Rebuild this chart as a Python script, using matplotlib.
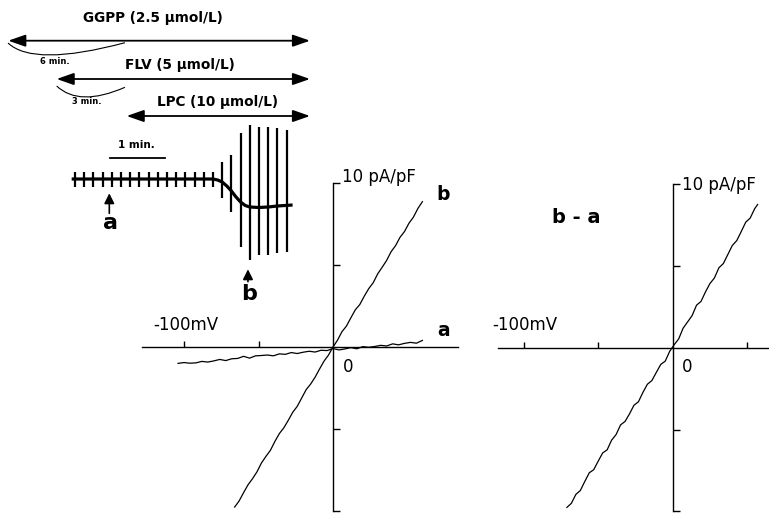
import matplotlib
matplotlib.use("Agg")
import matplotlib.pyplot as plt
from matplotlib.path import Path
from matplotlib.patches import PathPatch

# ---------------- data ----------------
# time course (s, arbitrary current units)
ramp_t = [0, 10, 20, 30, 40, 50, 60, 70, 80, 90, 100, 110, 120, 130, 140, 150,
          160, 170, 180, 190, 200, 210, 220, 230]
ramp_top = [0.75, 0.75, 0.7, 0.75, 0.75, 0.7, 0.75, 0.75, 0.7, 0.75, 0.75, 0.7,
            0.75, 0.75, 0.7, 0.75, 1.73, 2.4, 4.57, 5.4, 5.23, 5.23, 5.1, 4.9]
ramp_bot = [-0.75, -0.75, -0.8, -0.75, -0.75, -0.8, -0.75, -0.75, -0.8, -0.75,
            -0.75, -0.8, -0.75, -0.75, -0.8, -0.75, -1.93, -3.27, -6.77, -8.1,
            -7.6, -7.6, -7.4, -7.27]
hold_t = [-3.6, 150, 155, 160, 165, 170, 175, 180, 185, 190, 200, 210, 220, 236.5]
hold_I = [0, 0, -0.1, -0.3, -0.7, -1.2, -1.8, -2.3, -2.65, -2.8, -2.85, -2.8, -2.7, -2.6]

drug_labels = ["GGPP (2.5 \u03bcmol/L)", "FLV (5 \u03bcmol/L)", "LPC (10 \u03bcmol/L)"]
drug_start_s = [-72.5, -19.9, 56.2]
drug_end_s = 255.4

# I-V relations (mV, pA/pF)
b_V = [-66, -63, -60, -57, -54, -51, -48, -45, -42, -39, -36, -33, -30, -27, -24,
       -21, -18, -15, -12, -9, -6, -3, 0, 3, 6, 9, 12, 15, 18, 21, 24, 27, 30, 33,
       36, 39, 42, 45, 48, 51, 54, 57, 60]
b_I = [-9.74, -9.37, -8.86, -8.38, -8.01, -7.59, -7.05, -6.65, -6.28, -5.74, -5.26,
       -4.91, -4.45, -3.96, -3.60, -3.09, -2.58, -2.24, -1.82, -1.32, -0.84, -0.47,
       0.02, 0.43, 0.95, 1.29, 1.80, 2.29, 2.61, 3.12, 3.58, 3.94, 4.48, 4.88, 5.30,
       5.83, 6.20, 6.71, 7.06, 7.57, 7.94, 8.47, 8.88]

a_V = [-104, -100, -96, -92, -88, -84, -80, -76, -72, -68, -64, -60, -56, -52, -48,
       -44, -40, -36, -32, -28, -24, -20, -16, -12, -8, -4, 0, 4, 8, 12, 16, 20, 24,
       28, 32, 36, 40, 44, 48, 52, 56, 60]
a_I = [-0.98, -0.93, -0.97, -0.95, -0.86, -0.90, -0.83, -0.74, -0.81, -0.70, -0.68,
       -0.55, -0.66, -0.52, -0.50, -0.47, -0.52, -0.40, -0.43, -0.32, -0.38, -0.30,
       -0.24, -0.29, -0.18, -0.20, -0.08, -0.16, -0.10, -0.02, -0.09, 0.04, 0.00,
       0.05, 0.12, 0.08, 0.21, 0.15, 0.24, 0.30, 0.25, 0.42]

ba_V = [-71, -68, -65, -62, -59, -56, -53, -50, -47, -44, -41, -38, -35, -32, -29,
        -26, -23, -20, -17, -14, -11, -8, -5, -2, 1, 4, 7, 10, 13, 16, 19, 22, 25,
        28, 31, 34, 37, 40, 43, 46, 49, 52, 55, 57]
ba_I = [-9.75, -9.50, -8.96, -8.72, -8.17, -7.64, -7.45, -6.93, -6.43, -6.24, -5.65,
        -5.31, -4.72, -4.51, -4.05, -3.52, -3.31, -2.74, -2.24, -2.02, -1.52, -1.03,
        -0.83, -0.23, 0.17, 0.52, 1.18, 1.56, 1.94, 2.58, 2.81, 3.39, 3.90, 4.24,
        4.86, 5.12, 5.67, 6.22, 6.52, 7.07, 7.64, 7.89, 8.46, 8.72]

x_ticks = [-100, -50]
x_ticks_right = [-100, -50, 50]
y_ticks = [-10, -5, 5, 10]

# ---------------- figure ----------------
W, H = 769, 513
fig = plt.figure(figsize=(W / 100, H / 100), dpi=100)
fig.patch.set_facecolor("white")


def px_axes(x0, x1, y0, y1):
    ax = fig.add_axes([x0 / W, 1 - y1 / H, (x1 - x0) / W, (y1 - y0) / H])
    ax.patch.set_alpha(0)
    return ax


def iv_axes(x_zero, y_zero, xlim, ylim, xb, xt, sx=1.49, sy=16.4):
    ax = px_axes(x_zero + sx * xlim[0], x_zero + sx * xlim[1],
                 y_zero - sy * ylim[1], y_zero - sy * ylim[0])
    ax.set_xlim(xlim)
    ax.set_ylim(ylim)
    for s in ("top", "right"):
        ax.spines[s].set_visible(False)
    ax.spines["left"].set_position(("data", 0))
    ax.spines["bottom"].set_position(("data", 0))
    ax.spines["left"].set_bounds(-10, 10)
    ax.spines["bottom"].set_bounds(*xb)
    for s in ("left", "bottom"):
        ax.spines[s].set_linewidth(1.0)
    ax.set_xticks(xt)
    ax.set_yticks(y_ticks)
    ax.tick_params(axis="x", direction="in", length=4, width=1.0,
                   labelbottom=False)
    ax.tick_params(axis="y", direction="in", length=5, width=1.0,
                   labelleft=False)
    ax.text(-99, 1.35, "-100mV", fontsize=12, ha="center", va="center")
    ax.text(10, -1.18, "0", fontsize=12, ha="center", va="center")
    return ax


# left I-V
axL = iv_axes(333, 347.3, (-130, 85), (-10.05, 10.5), (-128, 84), x_ticks)
axL.plot(b_V, b_I, color="black", lw=0.9)
axL.plot(a_V, a_I, color="black", lw=0.9)
axL.text(6.0, 10.37, "10 pA/pF", fontsize=12, ha="left", va="center")
axL.text(74, 9.29, "b", fontsize=13.5, fontweight="bold", ha="center", va="center")
axL.text(74, 1.05, "a", fontsize=13.5, fontweight="bold", ha="center", va="center")

# right I-V
axR = iv_axes(672.7, 347.5, (-120, 65), (-10.05, 10.5), (-117, 65), x_ticks_right)
axR.plot(ba_V, ba_I, color="black", lw=0.9)
axR.text(6.0, 9.9, "10 pA/pF", fontsize=12, ha="left", va="center")
axR.text(-65, 7.9, "b - a", fontsize=14, fontweight="bold", ha="center", va="center")

# time course panel
axT = px_axes(0, 320, 0, 300)
axT.set_xlim(-81.5, 266.3)
axT.set_ylim(-12.1, 17.9)
axT.axis("off")
axT.vlines(ramp_t, ramp_bot, ramp_top, color="black", lw=1.6)
axT.plot(hold_t, hold_I, color="black", lw=2.3, solid_capstyle="butt")

# drug application arrows
arrow_y = [13.83, 10.0, 6.3]
label_y = [16.1, 11.4, 7.73]
label_x = [84.8, 114, 155.4]
for lab, t0, yy, lx, ly in zip(drug_labels, drug_start_s, arrow_y, label_x, label_y):
    axT.annotate("", xy=(drug_end_s, yy), xytext=(t0, yy),
                 arrowprops=dict(arrowstyle="<|-|>,head_length=0.8,head_width=0.28",
                                 color="black", lw=1.3, shrinkA=0, shrinkB=0,
                                 mutation_scale=13))
    axT.text(lx, ly, lab, fontsize=9.8, fontweight="bold", ha="center", va="center")

# time-break curves
for p0, c, p2 in [((-72.8, 13.6), (-45.1, 11.19), (54.3, 13.63)),
                  ((-19.9, 9.3), (4.5, 7.17), (54.3, 9.17))]:
    pp = Path([p0, c, p2], [Path.MOVETO, Path.CURVE3, Path.CURVE3])
    axT.add_patch(PathPatch(pp, fc="none", ec="black", lw=0.8))
axT.text(-21.7, 11.7, "6 min.", fontsize=6, fontweight="bold", ha="center", va="center")
axT.text(13, 7.73, "3 min.", fontsize=6, fontweight="bold", ha="center", va="center")

# scale bar
axT.plot([38, 98], [2.13, 2.13], color="black", lw=1.3)
axT.text(67, 3.4, "1 min.", fontsize=7.5, fontweight="bold", ha="center", va="center")

# a / b markers
axT.annotate("", xy=(37.3, -1.43), xytext=(37.3, -3.43),
             arrowprops=dict(arrowstyle="-|>,head_length=0.5,head_width=0.25",
                             color="black", lw=1.2, shrinkA=0, shrinkB=0,
                             mutation_scale=12))
axT.text(38.8, -4.37, "a", fontsize=16, fontweight="bold", ha="center", va="center")
axT.annotate("", xy=(188, -9.03), xytext=(188, -10.27),
             arrowprops=dict(arrowstyle="-|>,head_length=0.5,head_width=0.25",
                             color="black", lw=1.2, shrinkA=0, shrinkB=0,
                             mutation_scale=12))
axT.text(189.5, -11.53, "b", fontsize=16, fontweight="bold", ha="center", va="center")

fig.savefig("out.png", dpi=100, facecolor="white")
